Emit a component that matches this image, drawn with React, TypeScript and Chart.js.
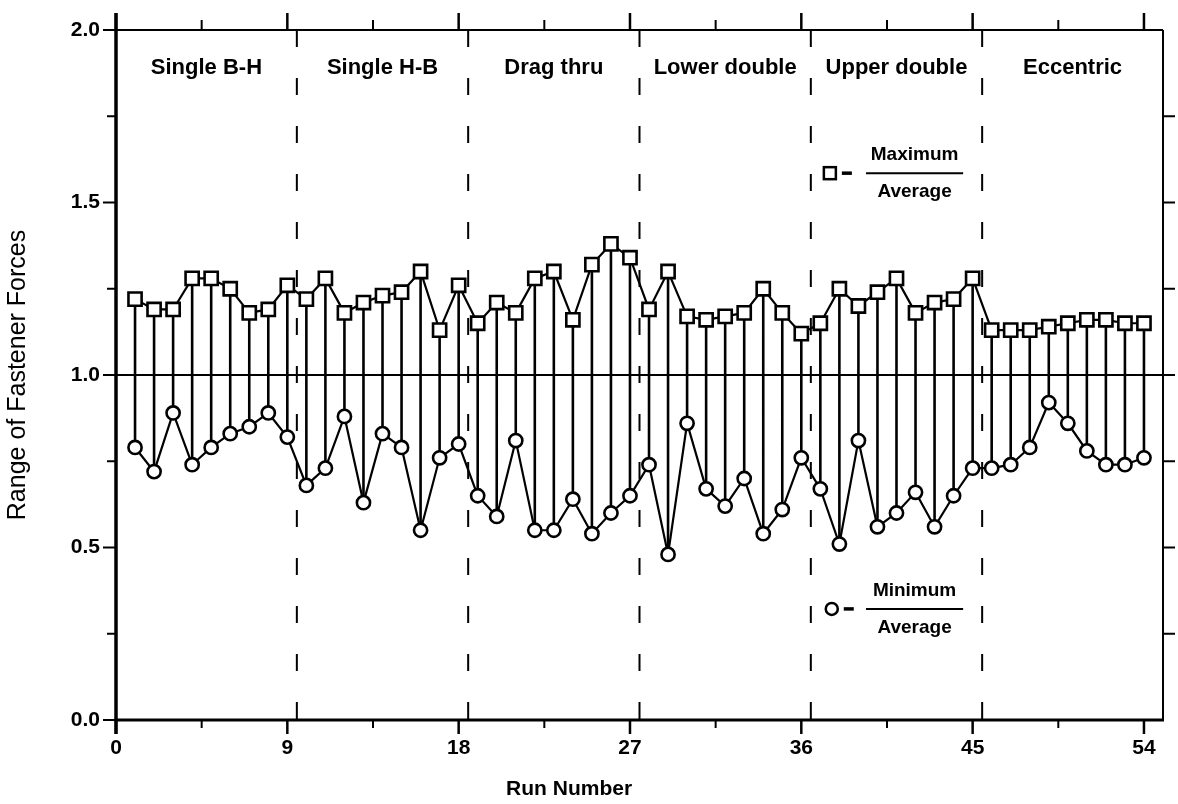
import React, { useEffect, useRef } from "react";
import { Chart, registerables } from "chart.js";

Chart.register(...registerables);

// ---------- data ----------
const runs = [
  1, 2, 3, 4, 5, 6, 7, 8, 9, 10, 11, 12, 13, 14, 15, 16, 17, 18,
  19, 20, 21, 22, 23, 24, 25, 26, 27, 28, 29, 30, 31, 32, 33, 34, 35, 36,
  37, 38, 39, 40, 41, 42, 43, 44, 45, 46, 47, 48, 49, 50, 51, 52, 53, 54,
];
const maxOverAverage = [
  1.22, 1.19, 1.19, 1.28, 1.28, 1.25, 1.18, 1.19, 1.26,
  1.22, 1.28, 1.18, 1.21, 1.23, 1.24, 1.30, 1.13, 1.26,
  1.15, 1.21, 1.18, 1.28, 1.30, 1.16, 1.32, 1.38, 1.34,
  1.19, 1.30, 1.17, 1.16, 1.17, 1.18, 1.25, 1.18, 1.12,
  1.15, 1.25, 1.20, 1.24, 1.28, 1.18, 1.21, 1.22, 1.28,
  1.13, 1.13, 1.13, 1.14, 1.15, 1.16, 1.16, 1.15, 1.15,
];
const minOverAverage = [
  0.79, 0.72, 0.89, 0.74, 0.79, 0.83, 0.85, 0.89, 0.82,
  0.68, 0.73, 0.88, 0.63, 0.83, 0.79, 0.55, 0.76, 0.80,
  0.65, 0.59, 0.81, 0.55, 0.55, 0.64, 0.54, 0.60, 0.65,
  0.74, 0.48, 0.86, 0.67, 0.62, 0.70, 0.54, 0.61, 0.76,
  0.67, 0.51, 0.81, 0.56, 0.60, 0.66, 0.56, 0.65, 0.73,
  0.73, 0.74, 0.79, 0.92, 0.86, 0.78, 0.74, 0.74, 0.76,
];
const xTickValues = [0, 9, 18, 27, 36, 45, 54];
const xMinorTickValues = [4.5, 13.5, 22.5, 31.5, 40.5, 49.5];
const yTickValues = [0, 0.5, 1.0, 1.5, 2.0];
const yMinorTickValues = [0.25, 0.75, 1.25, 1.75];
const groupBoundaries = [9.5, 18.5, 27.5, 36.5, 45.5];
const groupLabels = [
  "Single B-H",
  "Single H-B",
  "Drag thru",
  "Lower double",
  "Upper double",
  "Eccentric",
];
const referenceLevel = 1.0;
const xRange = [0, 55];
const yRange = [0, 2];
const xAxisTitle = "Run Number";
const yAxisTitle = "Range of Fastener Forces";

// ---------- fonts ----------
const WIDE = "'Liberation Sans', Arial, Helvetica, sans-serif";
const NARROW =
  "'Liberation Sans Narrow', 'Arial Narrow', 'Liberation Sans', Arial, sans-serif";

const decorPlugin = {
  id: "decor",
  afterDraw(chart: any) {
    const { ctx, chartArea } = chart;
    const xs = chart.scales.x;
    const ys = chart.scales.y;
    const { left, right, top, bottom } = chartArea;
    ctx.save();
    ctx.strokeStyle = "#000";
    ctx.fillStyle = "#000";
    ctx.lineCap = "butt";

    const line = (x1: number, y1: number, x2: number, y2: number, w: number) => {
      ctx.lineWidth = w;
      ctx.beginPath();
      ctx.moveTo(x1, y1);
      ctx.lineTo(x2, y2);
      ctx.stroke();
    };

    // spines
    line(left, top - 17, left, bottom + 14, 3.5);
    line(left - 1.5, bottom, right + 1, bottom, 3);
    line(left, top, right, top, 2);
    line(right, top, right, bottom, 2);

    // left ticks
    yTickValues.forEach((v) => {
      const y = ys.getPixelForValue(v);
      line(left - 13, y, left, y, 2);
    });
    yMinorTickValues.forEach((v) => {
      const y = ys.getPixelForValue(v);
      line(left - 9, y, left, y, 2);
    });
    // right ticks
    [...yTickValues, ...yMinorTickValues].forEach((v) => {
      const y = ys.getPixelForValue(v);
      if (v > 0 && v < 2) line(right, y, right + 12, y, 2);
    });
    // bottom ticks
    xTickValues.forEach((v) => {
      const x = xs.getPixelForValue(v);
      line(x, bottom, x, bottom + 14, 2.5);
    });
    xMinorTickValues.forEach((v) => {
      const x = xs.getPixelForValue(v);
      line(x, bottom, x, bottom + 8, 2);
    });
    // top ticks
    xTickValues.forEach((v) => {
      const x = xs.getPixelForValue(v);
      line(x, top, x, top - 17, 2.5);
    });
    xMinorTickValues.forEach((v) => {
      const x = xs.getPixelForValue(v);
      line(x, top, x, top - 10, 2);
    });

    // x axis title (offset left as in the source figure)
    ctx.font = `bold 21px ${NARROW}`;
    ctx.textAlign = "center";
    ctx.textBaseline = "middle";
    ctx.fillText(xAxisTitle, xs.getPixelForValue(23.8), bottom + 69);

    // group labels
    const bounds = [xRange[0], ...groupBoundaries, xRange[1]];
    ctx.font = `bold 22px ${WIDE}`;
    groupLabels.forEach((label, i) => {
      const cx = xs.getPixelForValue((bounds[i] + bounds[i + 1]) / 2);
      ctx.fillText(label, cx, ys.getPixelForValue(1.89));
    });

    // legend entries
    const drawFraction = (num: string, cy: number) => {
      const x1 = xs.getPixelForValue(39.4);
      const x2 = xs.getPixelForValue(44.5);
      line(x1, cy, x2, cy, 2);
      ctx.font = `bold 19px ${WIDE}`;
      ctx.textAlign = "center";
      ctx.textBaseline = "middle";
      const cx = (x1 + x2) / 2;
      ctx.fillText(num, cx, cy - 18);
      ctx.fillText("Average", cx, cy + 19);
    };
    // maximum
    {
      const mx = xs.getPixelForValue(37.5);
      const my = ys.getPixelForValue(1.585);
      ctx.fillStyle = "#fff";
      ctx.fillRect(mx - 6, my - 6, 12, 12);
      ctx.lineWidth = 2.5;
      ctx.strokeRect(mx - 6, my - 6, 12, 12);
      ctx.fillStyle = "#000";
      line(mx + 12, my, mx + 22, my, 3.5);
      drawFraction("Maximum", my);
    }
    // minimum
    {
      const mx = xs.getPixelForValue(37.6);
      const my = ys.getPixelForValue(0.322);
      ctx.fillStyle = "#fff";
      ctx.beginPath();
      ctx.arc(mx, my, 6, 0, Math.PI * 2);
      ctx.fill();
      ctx.lineWidth = 2.5;
      ctx.stroke();
      ctx.fillStyle = "#000";
      line(mx + 12, my, mx + 22, my, 3.5);
      drawFraction("Minimum", my);
    }
    ctx.restore();
  },
};

export default function App() {
  const ref = useRef<HTMLCanvasElement | null>(null);

  useEffect(() => {
    if (!ref.current) return;

    const maxPts = runs.map((r, i) => ({ x: r, y: maxOverAverage[i] }));
    const minPts = runs.map((r, i) => ({ x: r, y: minOverAverage[i] }));
    const stemPts: any[] = [];
    runs.forEach((r, i) => {
      stemPts.push({ x: r, y: minOverAverage[i] });
      stemPts.push({ x: r, y: maxOverAverage[i] });
      stemPts.push({ x: r, y: null });
    });
    const dashedSets = groupBoundaries.map((b) => ({
      label: "boundary " + b,
      data: [
        { x: b, y: yRange[1] },
        { x: b, y: yRange[0] },
      ],
      showLine: true,
      borderColor: "#000",
      borderWidth: 2,
      borderDash: [17, 31],
      pointRadius: 0,
      order: 8,
    }));

    const chart = new Chart(ref.current, {
      type: "scatter",
      data: {
        datasets: [
          {
            label: "Maximum / Average",
            data: maxPts,
            showLine: true,
            borderColor: "#000",
            borderWidth: 2.2,
            pointStyle: "rect",
            pointRadius: 9.3,
            pointBorderWidth: 2.6,
            pointBackgroundColor: "#fff",
            pointBorderColor: "#000",
            order: 1,
          },
          {
            label: "Minimum / Average",
            data: minPts,
            showLine: true,
            borderColor: "#000",
            borderWidth: 2.2,
            pointStyle: "circle",
            pointRadius: 6.6,
            pointBorderWidth: 2.6,
            pointBackgroundColor: "#fff",
            pointBorderColor: "#000",
            order: 2,
          },
          {
            label: "stems",
            data: stemPts,
            showLine: true,
            spanGaps: false,
            borderColor: "#000",
            borderWidth: 2.6,
            pointRadius: 0,
            order: 5,
          },
          {
            label: "average",
            data: [
              { x: xRange[0], y: referenceLevel },
              { x: xRange[1], y: referenceLevel },
            ],
            showLine: true,
            borderColor: "#000",
            borderWidth: 1.8,
            pointRadius: 0,
            order: 6,
          },
          ...dashedSets,
        ] as any,
      },
      options: {
        animation: false,
        responsive: false,
        maintainAspectRatio: false,
        layout: { padding: { top: 30, right: 15, left: 0, bottom: 0 } },
        plugins: {
          legend: { display: false },
          tooltip: { enabled: false },
        },
        scales: {
          x: {
            type: "linear",
            min: xRange[0],
            max: xRange[1],
            afterFit: (s: any) => {
              s.height = 84;
            },
            afterBuildTicks: (s: any) => {
              s.ticks = xTickValues.map((v) => ({ value: v }));
            },
            grid: { display: false, drawTicks: false },
            border: { display: false },
            ticks: {
              color: "#000",
              padding: 16,
              autoSkip: false,
              maxRotation: 0,
              font: { family: NARROW, size: 21, weight: "bold" },
              callback: (v: any) => String(v),
            },
            title: { display: false },
          },
          y: {
            type: "linear",
            min: yRange[0],
            max: yRange[1],
            afterFit: (s: any) => {
              s.width = 116;
            },
            afterBuildTicks: (s: any) => {
              s.ticks = yTickValues.map((v) => ({ value: v }));
            },
            grid: { display: false, drawTicks: false },
            border: { display: false },
            ticks: {
              color: "#000",
              padding: 16,
              font: { family: WIDE, size: 21, weight: "bold" },
              callback: (v: any) => Number(v).toFixed(1),
            },
            title: {
              display: true,
              text: yAxisTitle,
              color: "#000",
              font: { family: NARROW, size: 25, weight: "normal" },
              padding: { top: 3, bottom: 0 },
            },
          },
        },
      } as any,
      plugins: [decorPlugin],
    });

    return () => chart.destroy();
  }, []);

  return (
    <div
      style={{
        position: "fixed",
        left: 0,
        top: 0,
        width: 1178,
        height: 804,
        background: "#fff",
      }}
    >
      <canvas ref={ref} width={1178} height={804} style={{ display: "block" }} />
    </div>
  );
}
